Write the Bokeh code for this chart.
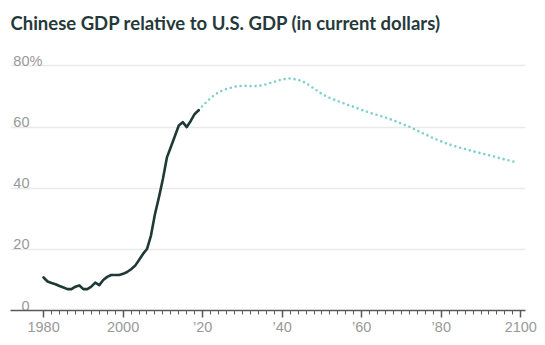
from bokeh.plotting import figure
from bokeh.models import FixedTicker, Range1d
from bokeh.core.properties import value
from bokeh.embed import file_html
from bokeh.resources import INLINE

# ---- data ----
hist_years = list(range(1980, 2020))
hist_values = [10.8, 9.5, 9.0, 8.6, 8.0, 7.5, 7.0, 7.0, 7.8, 8.2,
               7.0, 7.0, 7.8, 9.1, 8.3, 10.0, 11.0, 11.6, 11.6, 11.6,
               12.0, 12.6, 13.5, 14.6, 16.5, 18.5, 20.1, 24.5, 31.5, 37.0,
               43.0, 50.0, 53.5, 57.0, 60.5, 61.6, 60.0, 62.0, 64.3, 65.5]

proj_years = [2019, 2020, 2022, 2024, 2026, 2028, 2030, 2032, 2034, 2036,
              2038, 2040, 2042, 2044, 2046, 2048, 2050, 2052, 2054, 2056,
              2058, 2060, 2062, 2064, 2066, 2068, 2070, 2072, 2074, 2076,
              2078, 2080, 2082, 2084, 2086, 2088, 2090, 2092, 2094, 2096,
              2098, 2099]
proj_values = [65.5, 67.0, 69.5, 71.4, 72.5, 73.2, 73.5, 73.4, 73.4, 74.0,
               74.8, 75.6, 75.9, 75.5, 74.4, 72.6, 70.8, 69.5, 68.5, 67.5,
               66.6, 65.6, 64.7, 63.9, 63.1, 62.2, 61.1, 60.1, 58.8, 57.6,
               56.4, 55.3, 54.3, 53.5, 52.8, 52.1, 51.4, 50.8, 50.1, 49.4,
               48.8, 48.5]

x_ticks = [1980, 2000, 2020, 2040, 2060, 2080, 2100]
x_tick_labels = ["1980", "2000", "\u201920", "\u201940", "\u201960", "\u201980", "2100"]
x_minor_ticks = list(range(1980, 2101, 2))
y_ticks = [80, 60, 40, 20, 0]
y_tick_labels = ["80", "60", "40", "20", "0"]
y_top_suffix = "%"

title_text = "Chinese GDP relative to U.S. GDP (in current dollars)"

# ---- figure ----
X0, X1 = 1971.68, 2101.18
Y1 = 101.4
p = figure(width=545, height=345, output_backend="svg", toolbar_location=None,
           x_range=Range1d(X0, X1), y_range=Range1d(0, Y1),
           y_axis_location=None, min_border_left=10, min_border_right=20,
           min_border_bottom=35, min_border_top=0)
p.outline_line_color = None
p.background_fill_color = "white"
p.border_fill_color = "white"

# title drawn at the top-left of the canvas
p.text(x=[X0], y=[Y1], text=[title_text], x_offset=0, y_offset=22,
       text_align="left", text_baseline="alphabetic", text_font=value("Lato"),
       text_font_size="18.5px", text_font_style="bold", text_color="#26393a")

# grid
p.xgrid.visible = False
p.ygrid.ticker = FixedTicker(ticks=[v for v in y_ticks if v > 0])
p.ygrid.grid_line_color = "#e9e9e9"
p.ygrid.grid_line_width = 1.5

# x axis
ax = p.xaxis[0]
ax.ticker = FixedTicker(ticks=x_ticks, minor_ticks=x_minor_ticks)
ax.major_label_overrides = {t_: l for t_, l in zip(x_ticks, x_tick_labels)}
ax.axis_line_color = "#5a5a5a"
ax.axis_line_width = 1.5
ax.major_tick_line_color = "#5a5a5a"
ax.major_tick_line_width = 1.5
ax.major_tick_in = 0
ax.major_tick_out = 7
ax.minor_tick_line_color = "#5a5a5a"
ax.minor_tick_line_width = 1
ax.minor_tick_in = 0
ax.minor_tick_out = 4
ax.major_label_text_font = "Liberation Sans"
ax.major_label_text_font_size = "14.5px"
ax.major_label_text_color = "#999999"
ax.major_label_standoff = 1

# y labels drawn over the grid lines
p.text(x=[X0] * len(y_ticks), y=y_ticks, text=y_tick_labels, x_offset=19, y_offset=-5,
       text_align="right", text_baseline="alphabetic", text_font=value("Liberation Sans"),
       text_font_size="14.5px", text_color="#999999")
p.text(x=[X0], y=[y_ticks[0]], text=[y_top_suffix], x_offset=19, y_offset=-5,
       text_align="left", text_baseline="alphabetic", text_font=value("Liberation Sans"),
       text_font_size="14.5px", text_color="#999999")

# lines
p.line(proj_years, proj_values, line_color="#7fd0ca", line_width=2.6,
       line_dash="0 5", line_cap="round")
p.line(hist_years, hist_values, line_color="#1f3936", line_width=2.6,
       line_join="round", line_cap="round")

open("out.html", "w").write(file_html(p, INLINE))
